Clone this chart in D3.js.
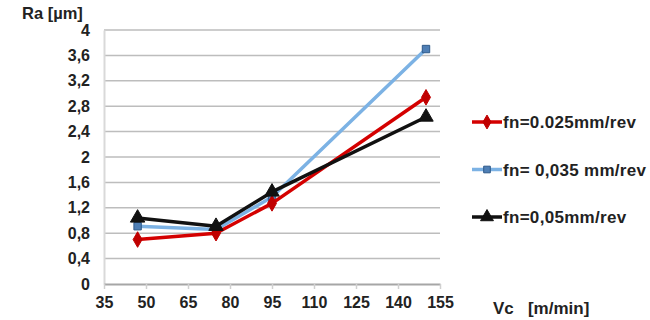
<!DOCTYPE html>
<html lang="en">
  <head>
    <style>
      body { margin: 0; background: #fff; }
      text { font-family: "Liberation Sans", Arial, sans-serif; font-weight: bold; fill: #222; }
    </style>
    <script src="https://d3js.org/d3.v7.min.js"></script>
  </head>
  <body>
    <svg width="650" height="320"></svg>
    <script>
      const speeds = [47, 75, 95, 150];
      const seriesNames = ["fn=0.025mm/rev", "fn= 0,035 mm/rev", "fn=0,05mm/rev"];
      const ra025 = [0.7, 0.8, 1.27, 2.94];
      const ra035 = [0.91, 0.86, 1.37, 3.7];
      const ra05 = [1.04, 0.91, 1.45, 2.63];
      const xTicks = [35, 50, 65, 80, 95, 110, 125, 140, 155];
      const yTicks = [0, 0.4, 0.8, 1.2, 1.6, 2, 2.4, 2.8, 3.2, 3.6, 4];

      const svg = d3.select("svg");
      const x = d3.scaleLinear().domain([35, 155]).range([104, 440]);
      const y = d3.scaleLinear().domain([0, 4]).range([284, 30]);

      // gridlines
      svg.append("g")
        .selectAll("line")
        .data(yTicks.slice(1))
        .enter()
        .append("line")
        .attr("x1", x(35))
        .attr("x2", x(155))
        .attr("y1", function (d) { return y(d); })
        .attr("y2", function (d) { return y(d); })
        .attr("stroke", "#bdbdbd")
        .attr("stroke-width", 1.5);

      // y axis
      const yAxis = svg.append("g")
        .attr("transform", "translate(" + x(35) + ",0)")
        .call(d3.axisLeft(y).tickValues(yTicks).tickSize(0).tickPadding(14)
          .tickFormat(function (d) { return String(d).replace(".", ","); }));
      yAxis.select(".domain").attr("stroke", "#d9d9d9").attr("stroke-width", 2);
      yAxis.selectAll("text").style("font-size", "16px").attr("fill", "#222");

      // x axis
      const xAxis = svg.append("g")
        .attr("transform", "translate(0," + y(0) + ")")
        .call(d3.axisBottom(x).tickValues(xTicks).tickSize(5).tickPadding(8).tickSizeOuter(0));
      xAxis.select(".domain").attr("stroke", "#a6a6a6").attr("stroke-width", 2);
      xAxis.selectAll(".tick line").attr("stroke", "#d0d0d0").attr("stroke-width", 1.5);
      xAxis.selectAll("text").style("font-size", "16px").attr("fill", "#222");

      svg.append("text").attr("x", 22).attr("y", 19).style("font-size", "16.5px").text("Ra [µm]");
      svg.append("text").attr("x", 493).attr("y", 314).style("font-size", "17px")
        .attr("xml:space", "preserve").text("Vc   [m/min]");

      const series = [
        { name: seriesNames[1], values: ra035, color: "#7cb2e4", marker: d3.symbolSquare, mfill: "#4f7fb5", mstroke: "#2e5a8a", size: 55 },
        { name: seriesNames[0], values: ra025, color: "#d40000", marker: d3.symbolDiamond, mfill: "#c00000", mstroke: "#c00000", size: 70 },
        { name: seriesNames[2], values: ra05, color: "#111111", marker: d3.symbolTriangle, mfill: "#111111", mstroke: "#111111", size: 90 }
      ];

      const line = d3.line()
        .x(function (d, i) { return x(speeds[i]); })
        .y(function (d) { return y(d); });

      series.forEach(function (s) {
        svg.append("path")
          .datum(s.values)
          .attr("d", line)
          .attr("fill", "none")
          .attr("stroke", s.color)
          .attr("stroke-width", 3.5)
          .attr("stroke-linejoin", "round");
        svg.append("g")
          .selectAll("path")
          .data(s.values)
          .enter()
          .append("path")
          .attr("transform", function (d, i) { return "translate(" + x(speeds[i]) + "," + y(d) + ")"; })
          .attr("d", d3.symbol().type(s.marker).size(s.size))
          .attr("fill", s.mfill)
          .attr("stroke", s.mstroke)
          .attr("stroke-width", 1);
      });

      // legend
      const legendOrder = [series[1], series[0], series[2]];
      const legend = svg.append("g");
      legendOrder.forEach(function (s, i) {
        const ly = 122 + i * 47.5;
        legend.append("line")
          .attr("x1", 472).attr("x2", 502)
          .attr("y1", ly).attr("y2", ly)
          .attr("stroke", s.color).attr("stroke-width", 3.5);
        legend.append("path")
          .attr("transform", "translate(487," + ly + ")")
          .attr("d", d3.symbol().type(s.marker).size(s.size * 0.8))
          .attr("fill", s.mfill).attr("stroke", s.mstroke).attr("stroke-width", 1);
        legend.append("text")
          .attr("x", 503).attr("y", ly + 6)
          .style("font-size", "17px")
          .style("letter-spacing", "0.3px")
          .attr("xml:space", "preserve")
          .text(s.name);
      });
    </script>
  </body>
</html>
